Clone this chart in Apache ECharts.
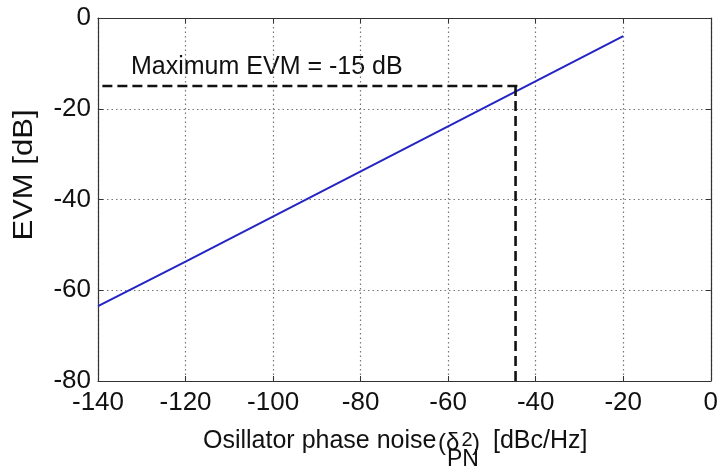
<!DOCTYPE html>
<html>
<head>
<meta charset="utf-8">
<script src="https://cdn.jsdelivr.net/npm/echarts@6/dist/echarts.min.js"></script>
<style>
  html, body { margin: 0; padding: 0; background: #fff; }
  #chart { width: 721px; height: 470px; }
</style>
</head>
<body>
<div id="chart"></div>
<script>
// Oscillator phase noise (dBc/Hz) vs. resulting EVM (dB)
const phaseNoise = [-140, -120, -20];
const evm = [-63.5, -53.7, -4];

// EVM requirement and the phase noise where it is reached
const maxEvm = -15;
const limitStartX = -139;
const limitEndX = -43.2;
const crossingX = -44.6;

// Axis ranges
const xMin = -140, xMax = 0, xStep = 20;
const yMin = -80, yMax = 0, yStep = 20;

const FONT = '"Liberation Sans", Arial, Helvetica, sans-serif';
const AXIS_COLOR = '#333';
const GRID_COLOR = '#777';

const chart = echarts.init(document.getElementById('chart'), null, { renderer: 'canvas' });

const baseX = {
  type: 'value', min: xMin, max: xMax, interval: xStep,
  axisLine: { show: true, onZero: false, lineStyle: { color: AXIS_COLOR, width: 1.2 } },
  axisTick: { show: true, inside: true, length: 5, lineStyle: { color: AXIS_COLOR } },
  splitLine: { show: false }
};
const baseY = {
  type: 'value', min: yMin, max: yMax, interval: yStep,
  axisLine: { show: true, onZero: false, lineStyle: { color: AXIS_COLOR, width: 1.2 } },
  axisTick: { show: true, inside: true, length: 5, lineStyle: { color: AXIS_COLOR } },
  splitLine: { show: false }
};

chart.setOption({
  animation: false,
  backgroundColor: '#ffffff',
  grid: { left: 98, right: 9, top: 18, bottom: 89 },
  xAxis: [
    Object.assign({}, baseX, {
      position: 'bottom',
      axisLabel: { color: '#111', fontSize: 26, fontFamily: FONT, margin: 9 },
      splitLine: { show: true, lineStyle: { color: GRID_COLOR, type: [1.5, 3], width: 1.2 } }
    }),
    Object.assign({}, baseX, { position: 'top', axisLabel: { show: false } })
  ],
  yAxis: [
    Object.assign({}, baseY, {
      position: 'left',
      axisLabel: { color: '#111', fontSize: 26, fontFamily: FONT, margin: 7 },
      splitLine: { show: true, lineStyle: { color: GRID_COLOR, type: [1.5, 3], width: 1.2 } }
    }),
    Object.assign({}, baseY, { position: 'right', axisLabel: { show: false } })
  ],
  series: [
    {
      name: 'EVM',
      type: 'line',
      data: phaseNoise.map((x, i) => [x, evm[i]]),
      showSymbol: false,
      lineStyle: { color: '#2424c4', width: 2 },
      z: 3
    },
    {
      name: 'EVM limit',
      type: 'line',
      data: [[limitStartX, maxEvm], [limitEndX, maxEvm]],
      showSymbol: false,
      lineStyle: { color: '#111', width: 2.6, type: [10, 5] },
      z: 4
    },
    {
      name: 'Phase noise limit',
      type: 'line',
      data: [[crossingX, maxEvm], [crossingX, yMin]],
      showSymbol: false,
      lineStyle: { color: '#111', width: 2.6, type: [10, 5] },
      z: 4
    }
  ],
  graphic: [
    {
      type: 'text', left: 131, top: 55,
      style: { text: 'Maximum EVM = ' + maxEvm + ' dB', font: '25px ' + FONT, fill: '#111' }
    },
    {
      type: 'text', x: 25, y: 175, rotation: Math.PI / 2, scaleX: 1.15,
      style: { text: 'EVM [dB]', font: '27px ' + FONT, fill: '#111', align: 'center', verticalAlign: 'middle' }
    },
    {
      type: 'text', x: 203, y: 441,
      style: { text: 'Osillator phase noise', font: '25px ' + FONT, fill: '#111', align: 'left', verticalAlign: 'middle' }
    },
    {
      type: 'text', x: 438, y: 443,
      style: { text: '(\u03b4', font: '24px ' + FONT, fill: '#111', align: 'left', verticalAlign: 'middle' }
    },
    {
      type: 'text', x: 467, y: 440,
      style: { text: '2', font: '20px ' + FONT, fill: '#111', align: 'center', verticalAlign: 'middle' }
    },
    {
      type: 'text', x: 463, y: 460,
      style: { text: 'PN', font: '23px ' + FONT, fill: '#111', align: 'center', verticalAlign: 'middle' }
    },
    {
      type: 'text', x: 472, y: 443,
      style: { text: ')', font: '24px ' + FONT, fill: '#111', align: 'left', verticalAlign: 'middle' }
    },
    {
      type: 'text', x: 493, y: 441,
      style: { text: '[dBc/Hz]', font: '25px ' + FONT, fill: '#111', align: 'left', verticalAlign: 'middle' }
    }
  ]
});
</script>
</body>
</html>
